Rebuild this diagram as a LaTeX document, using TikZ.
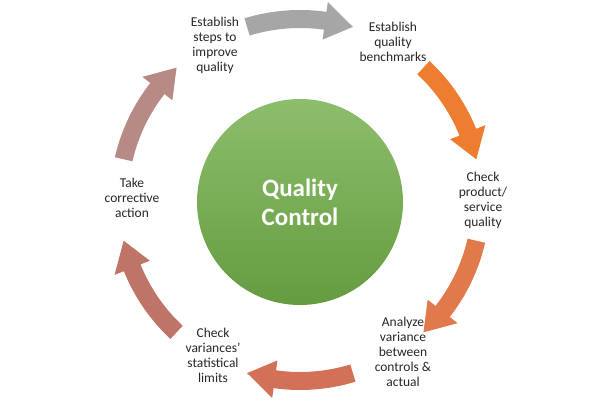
\documentclass[tikz,border=0pt]{standalone}
\usepackage{fontspec}
\setmainfont{Carlito}
\definecolor{qgreen}{HTML}{70AD47}
\definecolor{qgrey}{HTML}{A6A6A6}
\definecolor{qorange}{HTML}{ED7D31}
\definecolor{qsalmon}{HTML}{E07A4A}
\definecolor{qbrick}{HTML}{D27058}
\definecolor{qrose}{HTML}{BF7468}
\definecolor{qmauve}{HTML}{B78A86}
% curved band arrow, clockwise from #1 to #2 (degrees)
\newcommand\qcarrow[3]{%
  \fill[#3] (#1:190) arc[start angle=#1, end angle=#2+9, radius=190]
    -- (#2+9:200) -- (#2:181) -- (#2+9:162) -- (#2+9:172)
    arc[start angle=#2+9, end angle=#1, radius=172] -- cycle;}
\begin{document}
\begin{tikzpicture}[x=1pt,y=1pt]
    \tikzset{
        lbl/.style={font=\fontsize{13.5}{15}\selectfont, align=center, text=black!85},
        hub/.style={circle, minimum size=206pt, inner sep=0pt, top color=qgreen!80!white, bottom color=qgreen!90!black, font=\fontsize{25}{29}\bfseries\selectfont, text=white, align=center}
        }
    \useasboundingbox (-300,-203) rectangle (300,200);

    %centre
    \node (qc) [hub] at (0,-2) {Quality\\Control};

    %arrows
    \qcarrow{107}{73}{qgrey}
    \qcarrow{47}{13}{qorange}
    \qcarrow{-13}{-47}{qsalmon}
    \qcarrow{-73}{-107}{qbrick}
    \qcarrow{-133}{-167}{qrose}
    \qcarrow{167}{133}{qmauve}

    %steps
    \node (steps) [lbl] at (-85,155) {Establish\\steps to\\improve\\quality};
    \node (bench) [lbl] at (93,158) {Establish\\quality\\benchmarks};
    \node (check) [lbl] at (183,0) {Check\\product/\\service\\quality};
    \node (analyze) [lbl] at (103,-152) {Analyze\\variance\\between\\controls \&\\actual};
    \node (limits) [lbl] at (-87,-155) {Check\\variances’\\statistical\\limits};
    \node (action) [lbl] at (-168,2) {Take\\corrective\\action};
\end{tikzpicture}
\end{document}
